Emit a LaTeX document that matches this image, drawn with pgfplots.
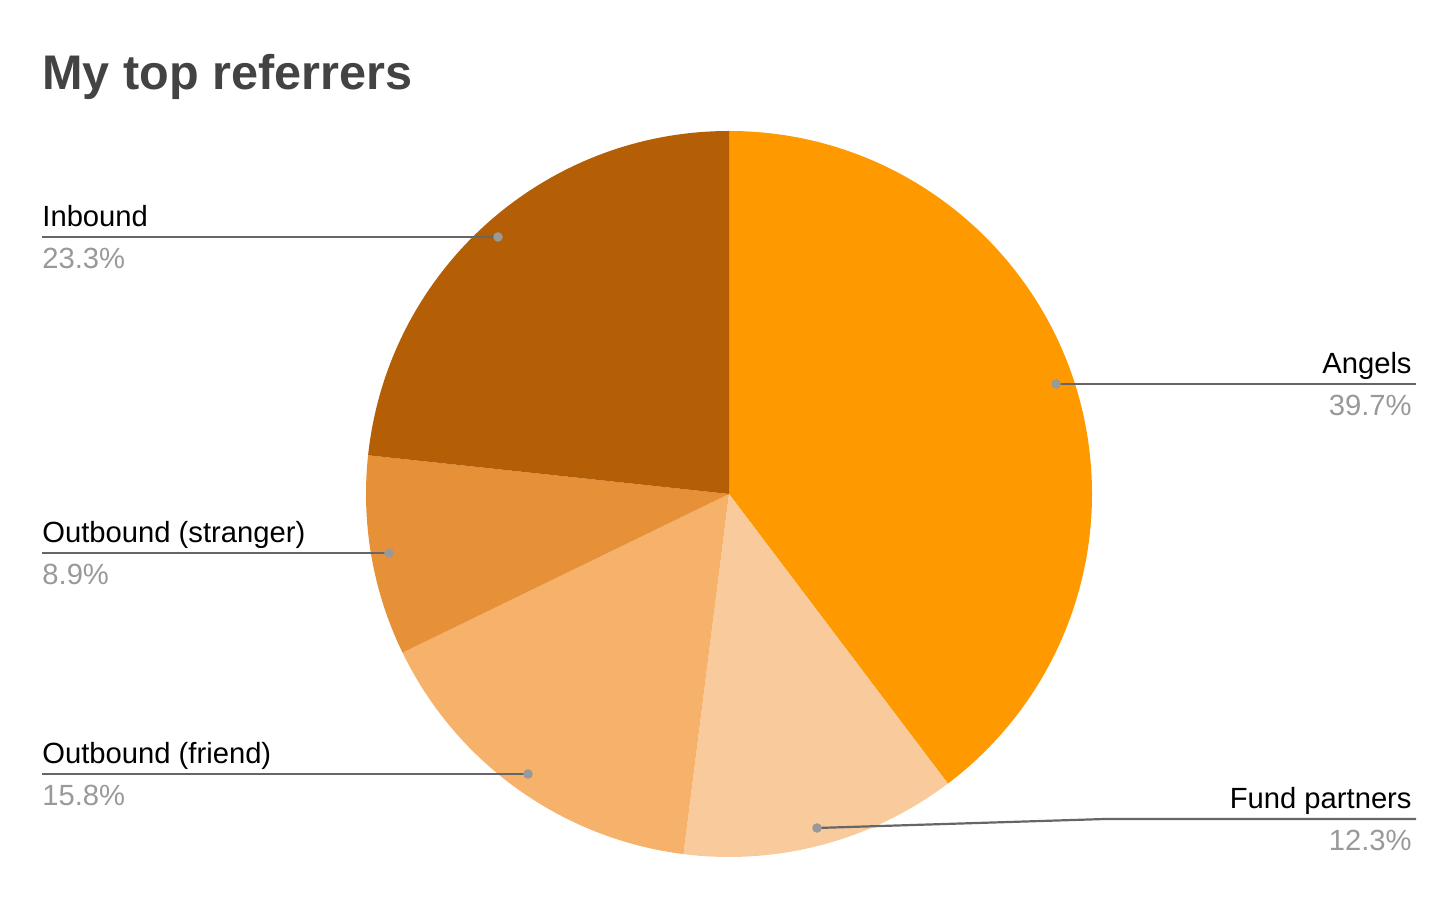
\documentclass[border=0pt]{standalone}
\usepackage{fontspec}
\setmainfont{Liberation Sans}
\usepackage{pgfplots}
\pgfplotsset{compat=1.18}

\definecolor{angels}{HTML}{FF9900}
\definecolor{fund}{HTML}{F9CB9C}
\definecolor{friend}{HTML}{F6B26B}
\definecolor{stranger}{HTML}{E69138}
\definecolor{inbound}{HTML}{B45F06}
\definecolor{titlegray}{HTML}{434343}
\definecolor{pctgray}{HTML}{999999}
\definecolor{leadgray}{HTML}{666666}

% slice from cumulative percent #1 to #2, clockwise from the top
\newcommand{\slice}[3]{%
  \fill[#3] (axis cs:729,404) -- ++({90-3.6*#1}:181.5pt)
    arc[start angle={90-3.6*#1}, end angle={90-3.6*#2}, radius=181.5pt] -- cycle;}
% label: x, line y, anchor side, name, percent
\newcommand{\lbl}[5]{%
  \node[anchor=base #3, inner sep=0pt, font=\fontsize{14.6}{17}\selectfont]
    at (axis cs:#1,{908-#2}) {#4};
  \node[anchor=base #3, inner sep=0pt, text=pctgray, font=\fontsize{14.6}{17}\selectfont]
    at (axis cs:#1,{866-#2}) {#5\%};}
\newcommand{\leaddot}[2]{\fill[pctgray] (axis cs:#1,#2) circle[radius=2.4pt];}

\begin{document}
\begin{tikzpicture}
\begin{axis}[
  scale only axis, width=728pt, height=449pt,
  xmin=0, xmax=1456, ymin=0, ymax=898,
  hide axis, clip=false,
]
\path (axis cs:0,0) rectangle (axis cs:1456,898);

% data: Angels 39.7, Fund partners 12.3, Outbound (friend) 15.8,
% Outbound (stranger) 8.9, Inbound 23.3
\slice{0}{39.7}{angels}
\slice{39.7}{52.0}{fund}
\slice{52.0}{67.8}{friend}
\slice{67.8}{76.7}{stranger}
\slice{76.7}{100}{inbound}

\node[anchor=base west, inner sep=0pt, text=titlegray,
  font=\fontsize{24.3}{29}\selectfont\bfseries] at (axis cs:42,808) {My top referrers};

% leader lines
\draw[leadgray, line width=1.1pt] (axis cs:42,661) -- (axis cs:498,661);
\draw[leadgray, line width=1.1pt] (axis cs:1416,514) -- (axis cs:1056,514);
\draw[leadgray, line width=1.1pt] (axis cs:42,345) -- (axis cs:389,345);
\draw[leadgray, line width=1.1pt] (axis cs:42,124) -- (axis cs:528,124);
\draw[leadgray, line width=1.1pt] (axis cs:1416,79) -- (axis cs:1105,79) -- (axis cs:817,70);
\leaddot{498}{661}
\leaddot{1056}{514}
\leaddot{389}{345}
\leaddot{528}{124}
\leaddot{817}{70}

\lbl{42}{237}{west}{Inbound}{23.3}
\lbl{1412}{384}{east}{Angels}{39.7}
\lbl{42}{553}{west}{Outbound (stranger)}{8.9}
\lbl{42}{774}{west}{Outbound (friend)}{15.8}
\lbl{1412}{819}{east}{Fund partners}{12.3}
\end{axis}
\end{tikzpicture}
\end{document}
